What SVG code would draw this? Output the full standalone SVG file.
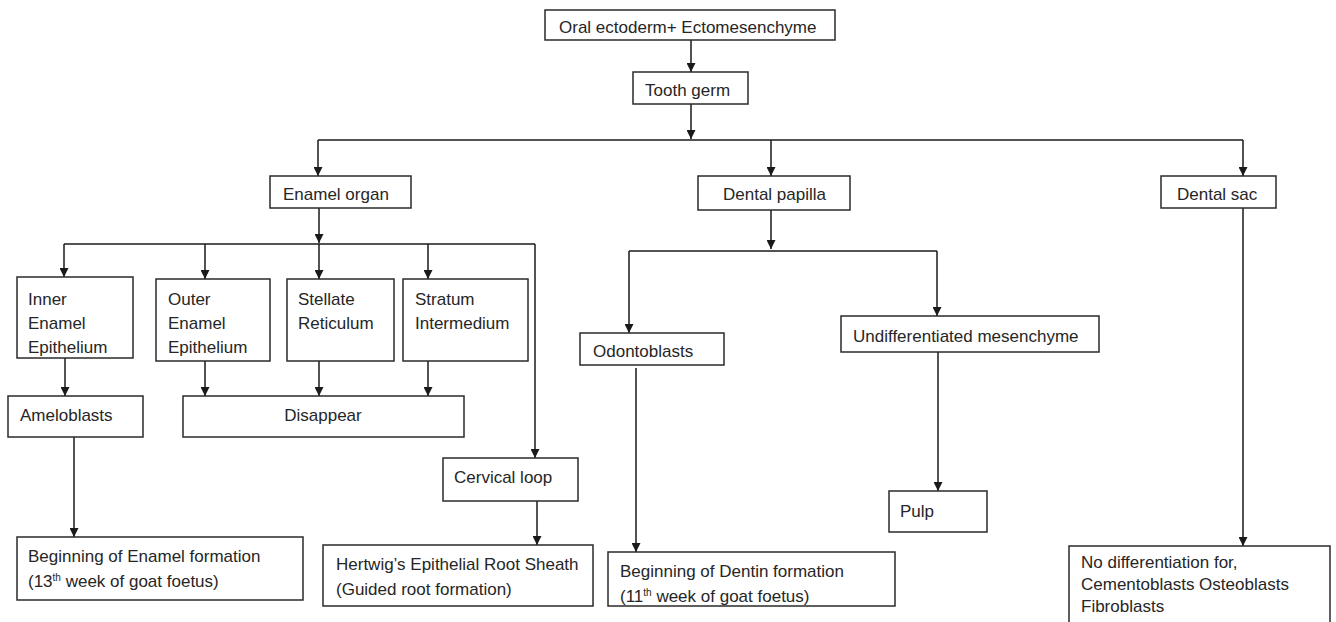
<svg xmlns="http://www.w3.org/2000/svg" width="1336" height="622" viewBox="0 0 1336 622">
<style>
.box{fill:#fff;stroke:#2a2a2a;stroke-width:1.5}
.t{font-family:"Liberation Sans",Arial,sans-serif;font-size:17px;fill:#262626}
.sup{font-size:10px}
.c{fill:none;stroke:#1a1a1a;stroke-width:1.5}
</style>
<defs>
<marker id="ah" viewBox="0 0 10 10" refX="10" refY="5" markerWidth="10" markerHeight="9" markerUnits="userSpaceOnUse" orient="auto">
<path d="M0,0 L10,5 L0,10 z" fill="#1a1a1a"/>
</marker>
</defs>
<rect width="1336" height="622" fill="#fff"/>
<g id="connectors">
<path class="c" d="M691,40 V72" marker-end="url(#ah)"/>
<path class="c" d="M691,104 V139" marker-end="url(#ah)"/>
<path class="c" d="M318,140 H1243"/>
<path class="c" d="M318,140 V176" marker-end="url(#ah)"/>
<path class="c" d="M771,140 V176" marker-end="url(#ah)"/>
<path class="c" d="M1243,140 V176" marker-end="url(#ah)"/>
<path class="c" d="M319,208 V243" marker-end="url(#ah)"/>
<path class="c" d="M64,244 H535"/>
<path class="c" d="M64,244 V277" marker-end="url(#ah)"/>
<path class="c" d="M205,244 V279" marker-end="url(#ah)"/>
<path class="c" d="M319,244 V279" marker-end="url(#ah)"/>
<path class="c" d="M428,244 V279" marker-end="url(#ah)"/>
<path class="c" d="M535,244 V458" marker-end="url(#ah)"/>
<path class="c" d="M65,358 V396" marker-end="url(#ah)"/>
<path class="c" d="M205,361 V396" marker-end="url(#ah)"/>
<path class="c" d="M319,361 V396" marker-end="url(#ah)"/>
<path class="c" d="M428,361 V396" marker-end="url(#ah)"/>
<path class="c" d="M74,437 V537" marker-end="url(#ah)"/>
<path class="c" d="M537,501 V545" marker-end="url(#ah)"/>
<path class="c" d="M771,210 V249" marker-end="url(#ah)"/>
<path class="c" d="M629,251 H937"/>
<path class="c" d="M629,251 V333" marker-end="url(#ah)"/>
<path class="c" d="M937,251 V316" marker-end="url(#ah)"/>
<path class="c" d="M636,368 V552" marker-end="url(#ah)"/>
<path class="c" d="M938,352 V491" marker-end="url(#ah)"/>
<path class="c" d="M1243,208 V546" marker-end="url(#ah)"/>
</g>
<g id="n-oral"><rect class="box" x="545" y="10" width="290" height="30"/><text class="t" x="559" y="33">Oral ectoderm+ Ectomesenchyme</text></g>
<g id="n-toothgerm"><rect class="box" x="633" y="72" width="115" height="32"/><text class="t" x="645" y="96">Tooth germ</text></g>
<g id="n-enamelorgan"><rect class="box" x="270" y="176" width="141" height="32"/><text class="t" x="283" y="200">Enamel organ</text></g>
<g id="n-dentalpapilla"><rect class="box" x="698" y="176" width="152" height="34"/><text class="t" x="723" y="200">Dental papilla</text></g>
<g id="n-dentalsac"><rect class="box" x="1161" y="176" width="115" height="32"/><text class="t" x="1177" y="200">Dental sac</text></g>
<g id="n-iee"><rect class="box" x="17" y="277" width="116" height="81"/><text class="t" x="28" y="305">Inner</text><text class="t" x="28" y="329">Enamel</text><text class="t" x="28" y="353">Epithelium</text></g>
<g id="n-oee"><rect class="box" x="156" y="279" width="114" height="82"/><text class="t" x="168" y="305">Outer</text><text class="t" x="168" y="329">Enamel</text><text class="t" x="168" y="353">Epithelium</text></g>
<g id="n-sr"><rect class="box" x="287" y="279" width="107" height="82"/><text class="t" x="298" y="305">Stellate</text><text class="t" x="298" y="329">Reticulum</text></g>
<g id="n-si"><rect class="box" x="403" y="279" width="125" height="82"/><text class="t" x="415" y="305">Stratum</text><text class="t" x="415" y="329">Intermedium</text></g>
<g id="n-ameloblasts"><rect class="box" x="8" y="396" width="135" height="41"/><text class="t" x="20" y="421">Ameloblasts</text></g>
<g id="n-disappear"><rect class="box" x="183" y="396" width="281" height="41"/><text class="t" x="323" y="421" text-anchor="middle">Disappear</text></g>
<g id="n-cervical"><rect class="box" x="443" y="458" width="135" height="43"/><text class="t" x="454" y="483">Cervical loop</text></g>
<g id="n-enamelform"><rect class="box" x="17" y="537" width="286" height="63"/><text class="t" x="28" y="562">Beginning of Enamel formation</text><text class="t" x="28" y="587">(13<tspan class="sup" dy="-6">th</tspan><tspan dy="6">  week of goat foetus)</tspan></text></g>
<g id="n-hertwig"><rect class="box" x="323" y="545" width="270" height="61"/><text class="t" x="336" y="570">Hertwig’s Epithelial Root Sheath</text><text class="t" x="336" y="595">(Guided root formation)</text></g>
<g id="n-odontoblasts"><rect class="box" x="580" y="333" width="144" height="32"/><text class="t" x="593" y="357">Odontoblasts</text></g>
<g id="n-undiff"><rect class="box" x="841" y="316" width="258" height="36"/><text class="t" x="853" y="342">Undifferentiated mesenchyme</text></g>
<g id="n-pulp"><rect class="box" x="889" y="491" width="98" height="41"/><text class="t" x="900" y="517">Pulp</text></g>
<g id="n-dentinform"><rect class="box" x="608" y="552" width="287" height="54"/><text class="t" x="620" y="577">Beginning of Dentin formation</text><text class="t" x="620" y="602">(11<tspan class="sup" dy="-6">th</tspan><tspan dy="6">  week of goat foetus)</tspan></text></g>
<g id="n-nodiff"><rect class="box" x="1069" y="546" width="261" height="90"/><text class="t" x="1081" y="568">No differentiation for,</text><text class="t" x="1081" y="590">Cementoblasts Osteoblasts</text><text class="t" x="1081" y="612">Fibroblasts</text></g>
</svg>
